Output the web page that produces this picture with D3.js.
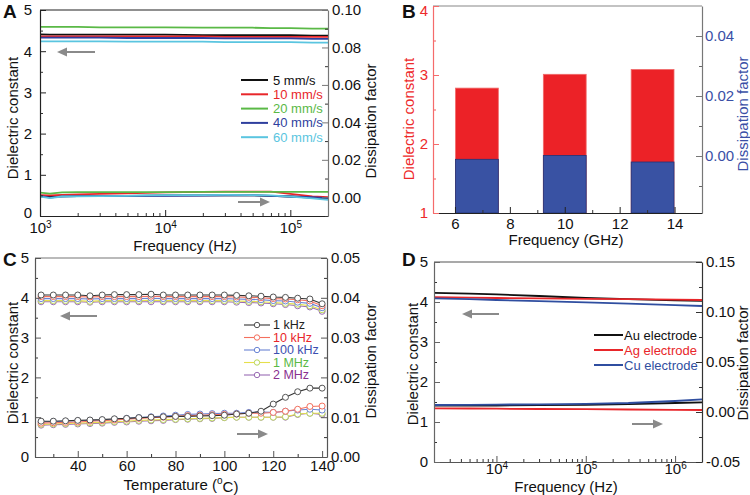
<!DOCTYPE html>
<html><head><meta charset="utf-8">
<script src="https://cdn.jsdelivr.net/npm/d3@7"></script>
<style>body{margin:0;background:#fff} svg{font-family:"Liberation Sans",Arial,sans-serif}</style>
</head><body><svg id="c" width="750" height="495"></svg>
<script>
// ---------- Panel A data ----------
const freqA = [1000,1200,1500,2000,3000,5000,7000,10000,20000,30000,50000,70000,100000,150000,200000];
const speedLabels = ["5 mm/s","10 mm/s","20 mm/s","40 mm/s","60 mm/s"];
const dkA_5  = [4.41,4.40,4.40,4.40,4.40,4.40,4.40,4.40,4.39,4.39,4.39,4.39,4.39,4.38,4.38];
const dkA_10 = [4.36,4.36,4.36,4.36,4.36,4.36,4.36,4.36,4.36,4.35,4.35,4.35,4.35,4.35,4.35];
const dkA_20 = [4.59,4.59,4.59,4.59,4.58,4.58,4.58,4.58,4.57,4.57,4.57,4.56,4.56,4.55,4.55];
const dkA_40 = [4.33,4.33,4.33,4.33,4.33,4.32,4.32,4.32,4.32,4.31,4.31,4.31,4.31,4.30,4.30];
const dkA_60 = [4.24,4.24,4.24,4.24,4.24,4.23,4.23,4.23,4.23,4.22,4.22,4.22,4.22,4.21,4.21];
const dfA_5  = [0.0004,0.0006,0.0005,0.0006,0.0007,0.0008,0.0009,0.0010,0.0010,0.0010,0.0010,0.0008,0.0004,-0.0002,-0.0007];
const dfA_10 = [0.0012,0.0010,0.0013,0.0015,0.0018,0.0021,0.0024,0.0026,0.0029,0.0030,0.0030,0.0030,0.0018,0.0005,0.0000];
const dfA_20 = [0.0025,0.0020,0.0026,0.0027,0.0027,0.0028,0.0028,0.0028,0.0029,0.0029,0.0029,0.0029,0.0029,0.0029,0.0029];
const dfA_40 = [0.0008,-0.0002,0.0005,0.0006,0.0006,0.0007,0.0008,0.0008,0.0009,0.0010,0.0010,0.0008,0.0004,0.0000,-0.0005];
const dfA_60 = [0.0004,-0.0004,0.0004,0.0005,0.0006,0.0008,0.0010,0.0011,0.0012,0.0013,0.0012,0.0010,0.0004,-0.0006,-0.0014];

// ---------- Panel B data ----------
const freqB = [6.8, 10, 13.2];
const dkB = [2.81, 3.01, 3.08];
const dfB = [-0.0011, 0.0002, -0.0020];

// ---------- Panel C data ----------
const tempC = [25,30,35,40,45,50,55,60,65,70,75,80,85,90,95,100,105,110,115,120,125,130,135,140];
const freqLabelsC = ["1 kHz","10 kHz","100 kHz","1 MHz","2 MHz"];
const dkC_1k   = [4.07,4.07,4.07,4.07,4.05,4.07,4.08,4.08,4.08,4.09,4.07,4.07,4.07,4.07,4.07,4.07,4.06,4.05,4.04,4.02,4.01,3.99,3.97,3.85];
const dkC_10k  = [4.03,4.03,4.03,4.03,4.02,4.03,4.03,4.03,4.03,4.04,4.03,4.03,4.03,4.03,4.03,4.03,4.02,4.01,4.00,3.98,3.97,3.95,3.92,3.80];
const dkC_100k = [3.98,3.98,3.98,3.98,3.97,3.98,3.98,3.98,3.98,3.99,3.98,3.98,3.98,3.98,3.98,3.98,3.97,3.96,3.95,3.93,3.92,3.89,3.86,3.75];
const dkC_1M   = [3.93,3.93,3.93,3.93,3.91,3.93,3.93,3.93,3.93,3.94,3.93,3.93,3.93,3.93,3.93,3.93,3.92,3.91,3.90,3.88,3.86,3.84,3.80,3.70];
const dkC_2M   = [3.90,3.90,3.90,3.90,3.89,3.90,3.90,3.90,3.90,3.90,3.90,3.90,3.90,3.90,3.90,3.90,3.89,3.88,3.87,3.85,3.83,3.80,3.77,3.66];
const dfC_1k   = [0.0090,0.0090,0.0091,0.0092,0.0093,0.0094,0.0096,0.0097,0.0099,0.0100,0.0101,0.0102,0.0102,0.0103,0.0104,0.0105,0.0108,0.0110,0.0115,0.0133,0.0150,0.0164,0.0173,0.0173];
const dfC_10k  = [0.0085,0.0086,0.0087,0.0088,0.0090,0.0091,0.0093,0.0095,0.0097,0.0099,0.0100,0.0102,0.0104,0.0105,0.0106,0.0107,0.0108,0.0110,0.0110,0.0112,0.0115,0.0120,0.0127,0.0128];
const dfC_100k = [0.0088,0.0089,0.0090,0.0091,0.0092,0.0093,0.0095,0.0097,0.0099,0.0101,0.0103,0.0105,0.0107,0.0108,0.0109,0.0110,0.0110,0.0112,0.0113,0.0112,0.0115,0.0118,0.0120,0.0118];
const dfC_1M   = [0.0082,0.0083,0.0084,0.0085,0.0086,0.0087,0.0089,0.0090,0.0092,0.0093,0.0094,0.0095,0.0096,0.0097,0.0098,0.0099,0.0100,0.0100,0.0100,0.0100,0.0101,0.0108,0.0110,0.0110];
const dfC_2M   = [0.0080,0.0081,0.0082,0.0083,0.0084,0.0085,0.0087,0.0088,0.0090,0.0091,0.0092,0.0094,0.0095,0.0096,0.0097,0.0099,0.0100,0.0100,0.0100,0.0100,0.0100,0.0107,0.0110,0.0107];

// ---------- Panel D data ----------
const freqD = [2000,5000,10000,30000,100000,300000,1000000,2000000];
const electrodeLabels = ["Au electrode","Ag electrode","Cu electrode"];
const dkD_Au = [4.23,4.21,4.19,4.15,4.10,4.07,4.04,4.03];
const dkD_Ag = [4.12,4.11,4.10,4.09,4.08,4.07,4.06,4.05];
const dkD_Cu = [4.09,4.07,4.05,4.02,3.99,3.96,3.92,3.90];
const dfD_Au = [0.0063,0.0064,0.0065,0.0068,0.0072,0.0078,0.0090,0.0097];
const dfD_Ag = [0.0037,0.0035,0.0033,0.0030,0.0028,0.0025,0.0022,0.0020];
const dfD_Cu = [0.0070,0.0072,0.0074,0.0077,0.0082,0.0090,0.0110,0.0127];

// ---------- helpers ----------
const svg = d3.select("#c");
const TICKFS = 15, TITLEFS = 15, LEGFS = 13;
const AX = "#333";

function logMinor(lo, hi){
  const out=[];
  for(let e=Math.floor(Math.log10(lo)); e<=Math.ceil(Math.log10(hi)); e++){
    for(let d=2; d<=9; d++){ const v=d*Math.pow(10,e); if(v>=lo && v<=hi) out.push(v); }
  }
  return out;
}
function styleAxis(g, lineColor, textColor){
  g.select(".domain").attr("stroke", lineColor).attr("stroke-width",1.2);
  g.selectAll(".tick line").attr("stroke", lineColor);
  g.selectAll(".tick text").attr("fill", textColor).attr("font-size", TICKFS).attr("font-family","Liberation Sans, Arial, sans-serif");
}
function addAxis(gen, tx, ty, lineColor, textColor){
  const g = svg.append("g").attr("transform",`translate(${tx},${ty})`).call(gen);
  styleAxis(g, lineColor, textColor);
  return g;
}
function minorAxis(gen, tx, ty, lineColor){
  const g = svg.append("g").attr("transform",`translate(${tx},${ty})`).call(gen);
  g.select(".domain").remove();
  g.selectAll(".tick text").remove();
  g.selectAll(".tick line").attr("stroke", lineColor);
}
function supLabels(g){
  g.selectAll(".tick text").each(function(d){
    const t=d3.select(this); const e=Math.round(Math.log10(d));
    t.text(null);
    t.append("tspan").text("10");
    t.append("tspan").attr("dy","-0.45em").attr("font-size",10).text(e);
  });
}
function title(x,y,txt,rot,color){
  svg.append("text").attr("transform",`translate(${x},${y})`+(rot?" rotate(-90)":""))
    .attr("text-anchor","middle").attr("dominant-baseline","central")
    .attr("font-size",TITLEFS).attr("fill",color||"#111").text(txt);
}
function letter(x,y,t){
  svg.append("text").attr("x",x).attr("y",y).attr("font-size",19).attr("font-weight","bold").attr("fill","#111").text(t);
}
function arrow(x1,x2,y){
  const dir = x2>x1?1:-1, hl=10, hw=4.5;
  svg.append("line").attr("x1",x1).attr("x2",x2-dir*hl).attr("y1",y).attr("y2",y).attr("stroke","#8a8a8a").attr("stroke-width",2);
  svg.append("path").attr("d",`M${x2},${y}L${x2-dir*hl},${y-hw}L${x2-dir*hl},${y+hw}Z`).attr("fill","#8a8a8a");
}
function topLine(x1,x2,y,c){ svg.append("line").attr("x1",x1).attr("x2",x2).attr("y1",y).attr("y2",y).attr("stroke",c).attr("stroke-width",1.2); }

// ================= Panel A =================
(function(){
  const L=40,R=328,T=10,B=216;
  const x=d3.scaleLog().domain([1e3,2e5]).range([L,R]);
  const yL=d3.scaleLinear().domain([0,5]).range([B,T]);
  const yR=d3.scaleLinear().domain([-0.01,0.10]).range([B,T]);
  svg.append("clipPath").attr("id","clipA").append("rect").attr("x",L).attr("y",T).attr("width",R-L).attr("height",B-T);
  const cols=["#111111","#e8262a","#5ab946","#2f3f9e","#5ac5e0"];
  const dk=[dkA_5,dkA_10,dkA_20,dkA_40,dkA_60], df=[dfA_5,dfA_10,dfA_20,dfA_40,dfA_60];
  const gl=svg.append("g").attr("clip-path","url(#clipA)");
  dk.forEach((s,i)=>gl.append("path").datum(s).attr("fill","none").attr("stroke",cols[i]).attr("stroke-width",1.8)
     .attr("d",d3.line().x((d,j)=>x(freqA[j])).y(d=>yL(d))));
  df.forEach((s,i)=>gl.append("path").datum(s).attr("fill","none").attr("stroke",cols[i]).attr("stroke-width",1.8)
     .attr("d",d3.line().x((d,j)=>x(freqA[j])).y(d=>yR(d))));
  topLine(L,R,T,"#222");
  minorAxis(d3.axisBottom(x).tickValues(logMinor(1e3,2e5)).tickSizeInner(-3).tickSizeOuter(0),0,B,AX);
  const gx=addAxis(d3.axisBottom(x).tickValues([1e3,1e4,1e5]).tickSizeInner(-6).tickSizeOuter(0).tickPadding(6),0,B,"#222","#111");
  supLabels(gx);
  minorAxis(d3.axisLeft(yL).tickValues([0.5,1.5,2.5,3.5,4.5]).tickSizeInner(-3).tickSizeOuter(0),L,0,AX);
  const gy=addAxis(d3.axisLeft(yL).tickValues([0,1,2,3,4,5]).tickSizeInner(-6).tickSizeOuter(0).tickPadding(8).tickFormat(d3.format("d")),L,0,"#222","#111");
  gy.selectAll(".tick text").filter(d=>d===0).attr("dy","0.12em");
  minorAxis(d3.axisRight(yR).tickValues([-0.01,0.01,0.03,0.05,0.07,0.09]).tickSizeInner(-3).tickSizeOuter(0),R,0,AX);
  addAxis(d3.axisRight(yR).tickValues([0,0.02,0.04,0.06,0.08,0.10]).tickSizeInner(-6).tickSizeOuter(0).tickPadding(4).tickFormat(d3.format(".2f")),R,0,"#777","#111");
  title(12,118,"Dielectric constant",true);
  title(370,121,"Dissipation factor",true);
  title(185,245,"Frequency (Hz)",false);
  letter(3,18,"A");
  arrow(95,57,52); arrow(238,270,202);
  speedLabels.forEach((lab,i)=>{
    const yy=80+i*14.3;
    svg.append("line").attr("x1",241).attr("x2",268).attr("y1",yy).attr("y2",yy).attr("stroke",cols[i]).attr("stroke-width",2);
    svg.append("text").attr("x",273).attr("y",yy).attr("dominant-baseline","central").attr("font-size",LEGFS).attr("fill",cols[i]).text(lab);
  });
})();

// ================= Panel B =================
(function(){
  const L=433,R=702,T=6,B=213;
  const x=d3.scaleLinear().domain([5.2,15]).range([L,R]);
  const yL=d3.scaleLinear().domain([1,4]).range([B,T]);
  const yR=d3.scaleLinear().domain([-0.019,0.05]).range([B,T]);
  const w=1.56;
  freqB.forEach((f,i)=>{
    svg.append("rect").attr("x",x(f-w/2)).attr("width",x(f+w/2)-x(f-w/2)).attr("y",yL(dkB[i])).attr("height",B-yL(dkB[i]))
      .attr("fill","#ec2227").attr("stroke","#f06a6a").attr("stroke-width",0.8);
    svg.append("rect").attr("x",x(f-w/2)).attr("width",x(f+w/2)-x(f-w/2)).attr("y",yR(dfB[i])).attr("height",B-yR(dfB[i]))
      .attr("fill","#3952a3").attr("stroke","#223377").attr("stroke-width",0.8);
  });
  topLine(L,R,T,"#888");
  minorAxis(d3.axisBottom(x).tickValues([7,9,11,13]).tickSizeInner(-3).tickSizeOuter(0),0,B,AX);
  addAxis(d3.axisBottom(x).tickValues([6,8,10,12,14]).tickSizeInner(-6).tickSizeOuter(0).tickPadding(5).tickFormat(d3.format("d")),0,B,"#222","#111");
  minorAxis(d3.axisLeft(yL).tickValues([1.5,2.5,3.5]).tickSizeInner(-3).tickSizeOuter(0),L,0,"#f25a5a");
  const gl=addAxis(d3.axisLeft(yL).tickValues([1,2,3,4]).tickSizeInner(-6).tickSizeOuter(0).tickPadding(5).tickFormat(d3.format("d")),L,0,"#f56b6b","#ee2a2a");
  gl.selectAll(".tick text").filter(d=>d===4).attr("dy","0.62em");
  minorAxis(d3.axisRight(yR).tickValues([-0.01,0.01,0.03]).tickSizeInner(-3).tickSizeOuter(0),R,0,"#666");
  addAxis(d3.axisRight(yR).tickValues([0,0.02,0.04]).tickSizeInner(-6).tickSizeOuter(0).tickPadding(3).tickFormat(d3.format(".2f")),R,0,"#777","#3a4fa6");
  title(408,119,"Dielectric constant",true,"#ee2a2a");
  title(742,114,"Dissipation factor",true,"#3a4fa6");
  title(566,239,"Frequency (GHz)",false);
  letter(402,18,"B");
})();

// ================= Panel C =================
(function(){
  const L=35,R=327,T=258,B=457;
  const x=d3.scaleLinear().domain([22.5,142]).range([L,R]);
  const yL=d3.scaleLinear().domain([0,5]).range([B,T]);
  const yR=d3.scaleLinear().domain([0,0.05]).range([B,T]);
  const lineCols=["#333333","#f4705e","#6a84d4","#e6df4c","#9a6cb4"];
  const mkCols=["#555555","#f4705e","#6a84d4","#b9d65a","#9a6cb4"];
  const textCols=["#222222","#e8262a","#3b4fb0","#5ab946","#8a2f8f"];
  const dk=[dkC_1k,dkC_10k,dkC_100k,dkC_1M,dkC_2M], df=[dfC_1k,dfC_10k,dfC_100k,dfC_1M,dfC_2M];
  [dk.map(s=>[s,yL]), df.map(s=>[s,yR])].forEach(grp=>{
    for(let i=grp.length-1;i>=0;i--){
      const [s,y]=grp[i];
      svg.append("path").datum(s).attr("fill","none").attr("stroke",lineCols[i]).attr("stroke-width",1.1)
        .attr("d",d3.line().x((d,j)=>x(tempC[j])).y(d=>y(d)));
      svg.append("g").selectAll("circle").data(s).join("circle").attr("cx",(d,j)=>x(tempC[j])).attr("cy",d=>y(d)).attr("r",3)
        .attr("fill","#fff").attr("stroke",mkCols[i]).attr("stroke-width",1);
    }
  });
  topLine(L,R,T,"#777");
  minorAxis(d3.axisBottom(x).tickValues([30,50,70,90,110,130]).tickSizeInner(-3).tickSizeOuter(0),0,B,AX);
  addAxis(d3.axisBottom(x).tickValues([40,60,80,100,120,140]).tickSizeInner(-6).tickSizeOuter(0).tickPadding(3).tickFormat(d3.format("d")),0,B,"#555","#111");
  minorAxis(d3.axisLeft(yL).tickValues([0.5,1.5,2.5,3.5,4.5]).tickSizeInner(-3).tickSizeOuter(0),L,0,AX);
  addAxis(d3.axisLeft(yL).tickValues([0,1,2,3,4,5]).tickSizeInner(-6).tickSizeOuter(0).tickPadding(6).tickFormat(d3.format("d")),L,0,"#555","#111");
  minorAxis(d3.axisRight(yR).tickValues([0.005,0.015,0.025,0.035,0.045]).tickSizeInner(-3).tickSizeOuter(0),R,0,AX);
  addAxis(d3.axisRight(yR).tickValues([0,0.01,0.02,0.03,0.04,0.05]).tickSizeInner(-6).tickSizeOuter(0).tickPadding(4).tickFormat(d3.format(".2f")),R,0,"#555","#111");
  title(12,363,"Dielectric constant",true);
  title(370,361,"Dissipation factor",true);
  svg.append("text").attr("x",181).attr("y",484).attr("text-anchor","middle").attr("dominant-baseline","central").attr("font-size",TITLEFS).attr("fill","#111")
    .call(t=>{t.append("tspan").text("Temperature (");t.append("tspan").attr("dy","-0.4em").attr("font-size",10).text("o");t.append("tspan").attr("dy","0.4em").text("C)");});
  letter(3,266,"C");
  arrow(97,60,316); arrow(237,268,434);
  freqLabelsC.forEach((lab,i)=>{
    const yy=325+i*12.5;
    svg.append("line").attr("x1",244).attr("x2",270).attr("y1",yy).attr("y2",yy).attr("stroke",lineCols[i]).attr("stroke-width",1.1);
    svg.append("circle").attr("cx",257).attr("cy",yy).attr("r",2.7).attr("fill","#fff").attr("stroke",mkCols[i]);
    svg.append("text").attr("x",273).attr("y",yy).attr("dominant-baseline","central").attr("font-size",12.5).attr("fill",textCols[i]).text(lab);
  });
})();

// ================= Panel D =================
(function(){
  const L=434,R=702,T=262,B=462;
  const x=d3.scaleLog().domain([2e3,2e6]).range([L,R]);
  const yL=d3.scaleLinear().domain([0,5]).range([B,T]);
  const yR=d3.scaleLinear().domain([-0.05,0.15]).range([B,T]);
  const cols=["#111111","#e8262a","#2f4ea0"];
  const dk=[dkD_Au,dkD_Ag,dkD_Cu], df=[dfD_Au,dfD_Ag,dfD_Cu];
  dk.forEach((s,i)=>svg.append("path").datum(s).attr("fill","none").attr("stroke",cols[i]).attr("stroke-width",1.8)
     .attr("d",d3.line().x((d,j)=>x(freqD[j])).y(d=>yL(d))));
  df.forEach((s,i)=>svg.append("path").datum(s).attr("fill","none").attr("stroke",cols[i]).attr("stroke-width",1.8)
     .attr("d",d3.line().x((d,j)=>x(freqD[j])).y(d=>yR(d))));
  topLine(L,R,T,"#555");
  minorAxis(d3.axisBottom(x).tickValues(logMinor(2e3,2e6)).tickSizeInner(-3).tickSizeOuter(0),0,B,AX);
  const gx=addAxis(d3.axisBottom(x).tickValues([1e4,1e5,1e6]).tickSizeInner(-6).tickSizeOuter(0).tickPadding(1),0,B,"#555","#111");
  supLabels(gx);
  minorAxis(d3.axisLeft(yL).tickValues([0.5,1.5,2.5,3.5,4.5]).tickSizeInner(-3).tickSizeOuter(0),L,0,AX);
  addAxis(d3.axisLeft(yL).tickValues([0,1,2,3,4,5]).tickSizeInner(-6).tickSizeOuter(0).tickPadding(6).tickFormat(d3.format("d")),L,0,"#666","#111");
  minorAxis(d3.axisRight(yR).tickValues([-0.025,0.025,0.075,0.125]).tickSizeInner(-3).tickSizeOuter(0),R,0,AX);
  addAxis(d3.axisRight(yR).tickValues([-0.05,0,0.05,0.10,0.15]).tickSizeInner(-6).tickSizeOuter(0).tickPadding(4).tickFormat(d=>d3.format(".2f")(d).replace("−","-")),R,0,"#333","#111");
  title(412,364,"Dielectric constant",true);
  title(742,363,"Dissipation factor",true);
  title(566,486,"Frequency (Hz)",false);
  letter(402,266,"D");
  arrow(499,462,314); arrow(632,663,424);
  electrodeLabels.forEach((lab,i)=>{
    const yy=335+i*15;
    svg.append("line").attr("x1",594).attr("x2",623).attr("y1",yy).attr("y2",yy).attr("stroke",cols[i]).attr("stroke-width",2);
    svg.append("text").attr("x",624).attr("y",yy).attr("dominant-baseline","central").attr("font-size",LEGFS).attr("fill",cols[i]).text(lab);
  });
})();
</script></body></html>
